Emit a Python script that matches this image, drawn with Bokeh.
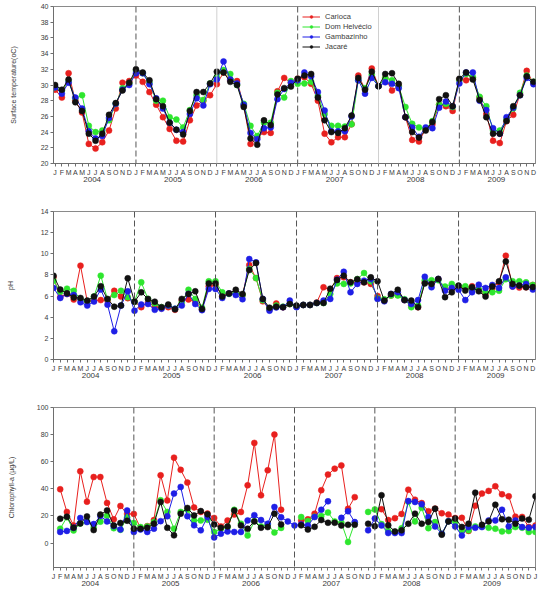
import numpy as np
from bokeh.plotting import figure
from bokeh.layouts import column
from bokeh.models import (ColumnDataSource, Span, FixedTicker, LinearAxis, Legend,
                          LegendItem, Range1d, AllLabels)
from bokeh.embed import file_html
from bokeh.resources import INLINE

nan = float("nan")

# ---------------------------------------------------------------- data
sites = ["Carioca", "Dom Helvécio", "Gambazinho", "Jacaré"]
colors = ["#e8201e", "#2ee62e", "#1f1fe6", "#111111"]
month_letters = ["J", "F", "M", "A", "M", "J", "J", "A", "S", "O", "N", "D"]
years = ["2004", "2005", "2006", "2007", "2008", "2009"]

# Surface temperature (oC), Jan 2004 - Dec 2009
temp_carioca = [
    29.4, 28.4, 31.5, 28.0, 26.5, 22.5, 21.9, 22.7, 24.2, 27.0, 30.3, 30.5,
    31.2, 30.4, 29.1, 27.5, 25.9, 24.4, 22.9, 22.8, 25.5, 27.4, 28.0, 28.7,
    30.1, 31.6, 30.6, 30.5, 27.4, 22.5, 23.3, 24.0, 23.9, 29.2, 30.9, 30.3,
    30.8, 31.0, 30.15, 28.0, 23.8, 22.7, 23.35, 23.35, 25.0, 31.2, 29.5, 32.1,
    29.85, 30.9, 29.3, 29.9, 25.9, 23.0, 22.8, 24.4, 25.0, 27.5, 27.3, 26.7,
    30.7, 30.6, 30.9, 28.4, 26.3, 22.9, 22.6, 25.4, 26.2, 28.8, 31.8, 30.2]
temp_dom_helvecio = [
    29.7, 29.3, 30.5, 28.3, 28.7, 24.8, 24.0, 24.2, 25.5, 27.6, 29.6, 30.2,
    31.8, 31.5, 30.3, 28.0, 28.0, 25.9, 25.6, 24.6, 26.8, 28.7, 28.1, 30.2,
    31.0, 31.9, 31.4, 30.0, 27.6, 24.8, 23.5, 25.2, 25.2, 29.0, 28.4, 30.5,
    30.15, 30.2, 30.4, 28.6, 26.3, 24.8, 24.8, 24.7, 25.0, 30.6, 29.6, 31.3,
    29.85, 30.9, 30.6, 29.8, 27.2, 25.05, 24.6, 24.4, 25.4, 27.5, 27.6, 27.2,
    30.6, 31.4, 31.0, 28.5, 27.3, 24.2, 24.2, 25.6, 27.0, 29.0, 31.2, 30.4]
temp_gambazinho = [
    29.7, 28.9, 30.3, 28.4, 27.0, 24.1, 23.2, 23.5, 25.8, 27.6, 29.4, 30.0,
    31.5, 31.5, 30.1, 28.3, 27.0, 25.2, 24.3, 24.0, 26.3, 28.3, 27.4, 30.1,
    30.7, 33.0, 30.7, 30.2, 27.5, 23.9, 23.1, 24.5, 24.6, 28.2, 29.5, 30.3,
    30.6, 31.6, 31.1, 29.1, 26.75, 24.1, 24.1, 24.1, 26.0, 30.6, 28.9, 30.9,
    29.85, 30.35, 30.15, 29.6, 25.9, 24.6, 23.4, 24.6, 24.5, 27.1, 27.9, 27.3,
    30.2, 31.6, 31.6, 28.0, 26.8, 24.5, 23.8, 25.9, 27.1, 28.7, 30.9, 30.1]
temp_jacare = [
    30.0, 29.4, 30.7, 27.8, 26.7, 23.8, 22.9, 23.8, 26.2, 27.7, 29.3, 30.3,
    32.0, 31.6, 30.6, 28.2, 27.3, 25.2, 24.3, 23.7, 26.7, 29.1, 29.1, 30.2,
    31.7, 31.6, 30.4, 30.0, 27.2, 23.2, 22.4, 25.5, 24.9, 28.8, 29.6, 29.8,
    30.8, 31.2, 31.4, 28.4, 25.5, 24.0, 23.9, 24.5, 26.1, 30.9, 29.4, 31.7,
    29.85, 31.4, 31.5, 30.15, 25.9, 24.0, 23.3, 24.2, 25.3, 28.2, 28.7, 27.3,
    30.8, 31.6, 30.7, 28.1, 25.9, 23.8, 23.8, 25.4, 27.3, 28.7, 31.1, 30.4]

# pH, Jan 2004 - Dec 2009
ph_carioca = [
    7.8, 5.9, 6.2, 5.67, 8.88, 5.5, 5.57, 5.62, 5.57, 6.5, 5.95, 5.8,
    5.47, 4.95, 5.4, 5.0, 4.85, 4.95, 4.7, 5.6, 5.67, 5.5, 4.75, 6.93,
    7.0, 6.0, 6.25, 6.35, 6.1, 8.93, 7.7, 5.5, 4.75, 5.3, 4.95, 5.25,
    5.0, 5.16, 5.16, 5.4, 6.83, 6.6, 7.7, 7.77, 7.3, 7.3, 7.3, 7.15,
    6.0, 5.57, 6.05, 6.1, 5.62, 5.1, 4.95, 7.3, 7.2, 7.6, 6.6, 6.7,
    6.8, 6.83, 6.93, 6.6, 6.2, 6.7, 7.3, 9.82, 6.9, 6.8, 6.83, 7.05]
ph_dom_helvecio = [
    7.46, 6.4, 6.7, 6.5, 5.7, 5.5, 5.95, 7.93, 5.7, 6.1, 6.5, 5.9,
    5.47, 7.3, 5.73, 5.3, 4.95, 5.1, 4.8, 5.4, 6.6, 5.73, 4.9, 7.4,
    7.4, 6.35, 6.2, 6.35, 6.1, 8.57, 7.7, 5.6, 4.8, 5.1, 5.0, 5.25,
    5.0, 5.16, 5.16, 5.35, 5.35, 6.2, 7.2, 7.15, 7.2, 7.6, 8.18, 7.4,
    5.8, 5.7, 6.05, 6.05, 5.7, 4.95, 5.1, 7.5, 7.5, 7.5, 6.9, 7.15,
    6.93, 6.93, 6.6, 6.61, 6.36, 6.36, 6.5, 7.6, 7.4, 7.4, 7.3, 7.05]
ph_gambazinho = [
    6.77, 5.82, 6.2, 6.1, 5.41, 5.1, 5.48, 6.61, 5.19, 2.67, 5.1, 6.45,
    4.62, 5.2, 5.25, 4.7, 4.8, 5.1, 4.8, 5.1, 6.2, 5.25, 4.67, 6.67,
    6.67, 5.82, 6.25, 6.1, 5.7, 9.5, 9.19, 5.73, 4.62, 4.93, 4.95, 5.57,
    4.95, 5.16, 5.16, 5.35, 5.57, 5.73, 7.55, 8.3, 6.36, 7.15, 7.46, 7.62,
    5.73, 5.5, 6.2, 6.36, 5.62, 5.25, 5.62, 7.83, 6.83, 7.62, 6.5, 6.77,
    6.6, 5.62, 6.36, 7.08, 6.77, 7.05, 6.77, 7.77, 6.9, 6.99, 7.15, 6.61]
ph_jacare = [
    7.93, 6.61, 6.26, 5.87, 5.82, 5.57, 5.95, 6.93, 5.73, 5.0, 5.1, 7.68,
    5.47, 6.35, 5.73, 5.47, 4.95, 5.2, 4.75, 5.73, 6.2, 6.45, 4.77, 7.2,
    7.2, 5.95, 6.25, 6.6, 6.2, 8.46, 9.13, 5.73, 4.9, 5.0, 4.95, 5.25,
    5.1, 5.16, 5.16, 5.35, 5.35, 6.7, 7.52, 7.93, 7.3, 7.6, 7.3, 7.77,
    7.4, 5.57, 6.2, 6.6, 5.62, 5.57, 4.95, 7.2, 7.15, 7.62, 5.9, 6.35,
    6.99, 6.52, 6.83, 6.45, 5.95, 6.9, 7.4, 9.28, 7.15, 6.99, 6.83, 6.85]

# Chlorophyll-a (ug/L), Jan 2004 - Jan 2010 (gaps = no sample)
chl_carioca = [
    nan,
    39.7, 23.0, 13.0, 52.9, 30.5, 48.7, 48.7, 29.6, 17.5, 27.4, 21.5,
    21.5, 11.0, 12.5, 17.0, 50.0, 31.5, 63.0, 54.0, 44.6, 26.3, 23.0, 21.8,
    18.5, 12.3, 16.7, 21.0, 22.9, 42.6, 73.9, 35.2, 53.7, 80.0, 24.6, nan,
    nan, 16.5, 17.5, 21.7, 39.0, 50.5, 54.9, 57.3, 25.3, 33.9, nan, nan,
    nan, 25.0, 17.0, 18.4, 21.5, 39.4, 32.0, 29.5, 23.5, 25.4, 22.0, 21.0,
    18.5, 18.6, 9.0, 27.5, 36.5, 38.5, 41.9, 36.0, 34.5, 19.5, 19.3, 11.9,
    13.0]
chl_dom_helvecio = [
    nan,
    10.6, 19.0, 9.3, 14.5, 16.0, 11.5, 15.8, 20.3, 11.0, 9.8, 19.0,
    14.8, 11.8, 12.3, 15.5, 31.6, 23.0, 10.6, 23.0, 24.6, 16.7, 16.7, 17.2,
    8.2, 10.6, 11.8, 24.6, 14.3, 5.6, 16.2, 12.3, 13.8, 7.8, 11.2, nan,
    nan, 19.2, 16.3, 19.5, 20.0, 22.5, 16.0, 15.0, 0.8, 15.0, nan, 23.0,
    24.8, 14.0, 9.0, 8.2, 11.0, 30.5, 16.0, 26.0, 11.0, 15.5, 6.9, 16.2,
    16.0, 9.4, 9.4, 12.3, 12.3, 11.3, 10.6, 8.6, 8.9, 11.8, 11.3, 8.2,
    8.2]
chl_gambazinho = [
    nan,
    8.2, 9.0, 11.3, 18.5, 15.5, 14.0, 20.0, 16.0, 12.5, 10.0, 24.1,
    8.2, 10.0, 8.2, 10.6, 16.2, 19.8, 36.5, 41.4, 19.8, 13.1, 9.4, 19.2,
    4.2, 6.9, 8.5, 8.2, 8.2, 16.7, 20.6, 17.0, 14.3, 26.6, 19.0, 16.0,
    13.0, 13.8, 13.0, 19.2, 24.6, 30.8, nan, 18.6, 23.5, 15.5, nan, 9.4,
    18.1, 13.0, 7.4, 7.4, 7.4, 31.0, 30.3, 28.6, 19.2, 12.3, 6.9, 16.2,
    12.3, 5.6, 11.8, 11.3, 11.8, 16.7, 16.7, 24.6, 12.3, 16.7, 11.8, 11.3,
    11.8]
chl_jacare = [
    nan,
    18.0, 19.5, 11.3, 14.5, 19.7, 9.6, 21.0, 24.1, 13.0, 14.8, 16.5,
    10.6, 10.6, 11.3, 14.3, 30.3, 11.3, 5.7, 21.7, 25.9, 20.4, 23.6, 21.2,
    13.8, 11.3, 12.3, 24.0, 13.0, 10.6, 16.0, 11.3, 11.8, 21.7, 13.8, nan,
    nan, 13.1, 10.0, 12.0, 17.0, 15.0, 15.0, 13.0, 13.5, 13.5, nan, 14.3,
    12.5, 35.3, 13.1, 8.6, 9.4, 14.3, 21.7, 14.3, 15.5, 25.4, 6.2, 16.0,
    18.1, 11.9, 14.3, 37.2, 13.5, 16.0, 28.3, 17.6, 17.3, 14.3, 18.1, 17.3,
    34.5]

FONT = "Liberation Sans"
TXT = "#3a3a3a"
AX = "#6e6e6e"


def panel(height, borders, x_rng, y_rng, y_ticks, y_label, label_standoff,
          n_months, series, boundary_styles):
    top, bottom, left, right = borders
    p = figure(width=539, height=height, output_backend="svg", toolbar_location=None,
               x_range=Range1d(*x_rng), y_range=Range1d(*y_rng),
               min_border_top=top, min_border_bottom=bottom,
               min_border_left=left, min_border_right=right)
    p.grid.visible = False
    p.outline_line_color = "#8a8a8a"
    p.outline_line_width = 1
    p.background_fill_color = "white"

    # month letters under every tick
    xa = p.xaxis[0]
    xa.ticker = FixedTicker(ticks=list(range(n_months)))
    xa.major_label_overrides = {i: month_letters[i % 12] for i in range(n_months)}
    xa.major_label_policy = AllLabels()
    xa.major_label_text_font = FONT
    xa.major_label_text_font_size = "7px"
    xa.major_label_text_color = TXT
    xa.major_label_standoff = 2
    xa.major_tick_in = 0
    xa.major_tick_out = 3
    xa.minor_tick_line_color = None
    xa.axis_line_color = AX
    xa.major_tick_line_color = AX

    # year names centred under each year
    year_pos = [5.5 + 12 * k for k in range(len(years))]
    ya2 = LinearAxis(ticker=FixedTicker(ticks=year_pos),
                     major_label_overrides={v: y for v, y in zip(year_pos, years)},
                     axis_line_color=None, major_tick_line_color=None,
                     minor_tick_line_color=None, major_tick_out=0, major_tick_in=0,
                     major_label_standoff=-2,
                     major_label_text_font=FONT, major_label_text_font_size="8px",
                     major_label_text_color=TXT)
    p.add_layout(ya2, "below")

    yax = p.yaxis[0]
    yax.ticker = FixedTicker(ticks=y_ticks)
    yax.major_label_text_font = FONT
    yax.major_label_text_font_size = "7px"
    yax.major_label_text_color = TXT
    yax.major_label_standoff = 2
    yax.major_tick_in = 0
    yax.major_tick_out = 3
    yax.minor_tick_line_color = None
    yax.axis_line_color = AX
    yax.major_tick_line_color = AX
    yax.axis_label = y_label
    yax.axis_label_text_font = FONT
    yax.axis_label_text_font_size = "7px"
    yax.axis_label_text_font_style = "normal"
    yax.axis_label_text_color = TXT
    yax.axis_label_standoff = label_standoff

    # year boundaries
    for loc, style in zip([12, 24, 36, 48, 60], boundary_styles):
        if style == "dash":
            span = Span(location=loc, dimension="height", line_color="#555555",
                        line_width=1, line_dash="6 3")
        else:
            span = Span(location=loc, dimension="height", line_color="#d0d0d0",
                        line_width=1)
        p.add_layout(span)

    renderers = []
    for vals, c in zip(series, colors):
        x = np.arange(len(vals), dtype=float)
        src = ColumnDataSource(dict(x=x, y=np.array(vals, dtype=float)))
        rl = p.line("x", "y", source=src, line_color=c, line_width=1)
        rp = p.scatter("x", "y", source=src, size=6, fill_color=c, line_color=c,
                       line_width=0.5)
        renderers.append((rl, rp))
    return p, renderers


p1, r1 = panel(195, (6, 32, 52, 2), (-0.24, 71.3), (20, 40), list(range(20, 41, 2)),
               "Surface temperature(oC)", 21, 72,
               [temp_carioca, temp_dom_helvecio, temp_gambazinho, temp_jacare],
               ["dash", "solid", "dash", "solid", "dash"])

legend = Legend(items=[LegendItem(label=s, renderers=list(r)) for s, r in zip(sites, r1)],
                location=(247, 110), orientation="vertical",
                label_text_font=FONT, label_text_font_size="7.5px",
                label_text_color=TXT, label_height=7, glyph_height=7,
                glyph_width=18, label_standoff=5, spacing=1, padding=2, margin=0,
                border_line_alpha=0, background_fill_alpha=0)
p1.add_layout(legend)

p2, _ = panel(195, (16, 31, 48, 4), (0, 71.4), (0, 14), list(range(0, 15, 2)),
              "pH", 24, 72,
              [ph_carioca, ph_dom_helvecio, ph_gambazinho, ph_jacare],
              ["dash"] * 5)

p3, _ = panel(203, (17, 26, 53, 0), (0, 72), (-18, 100), list(range(0, 101, 20)),
              "Chlorophyll-a (µg/L)", 19, 73,
              [chl_carioca, chl_dom_helvecio, chl_gambazinho, chl_jacare],
              ["dash"] * 5)

layout = column(p1, p2, p3, spacing=0)
open("out.html", "w").write(file_html(layout, INLINE))
